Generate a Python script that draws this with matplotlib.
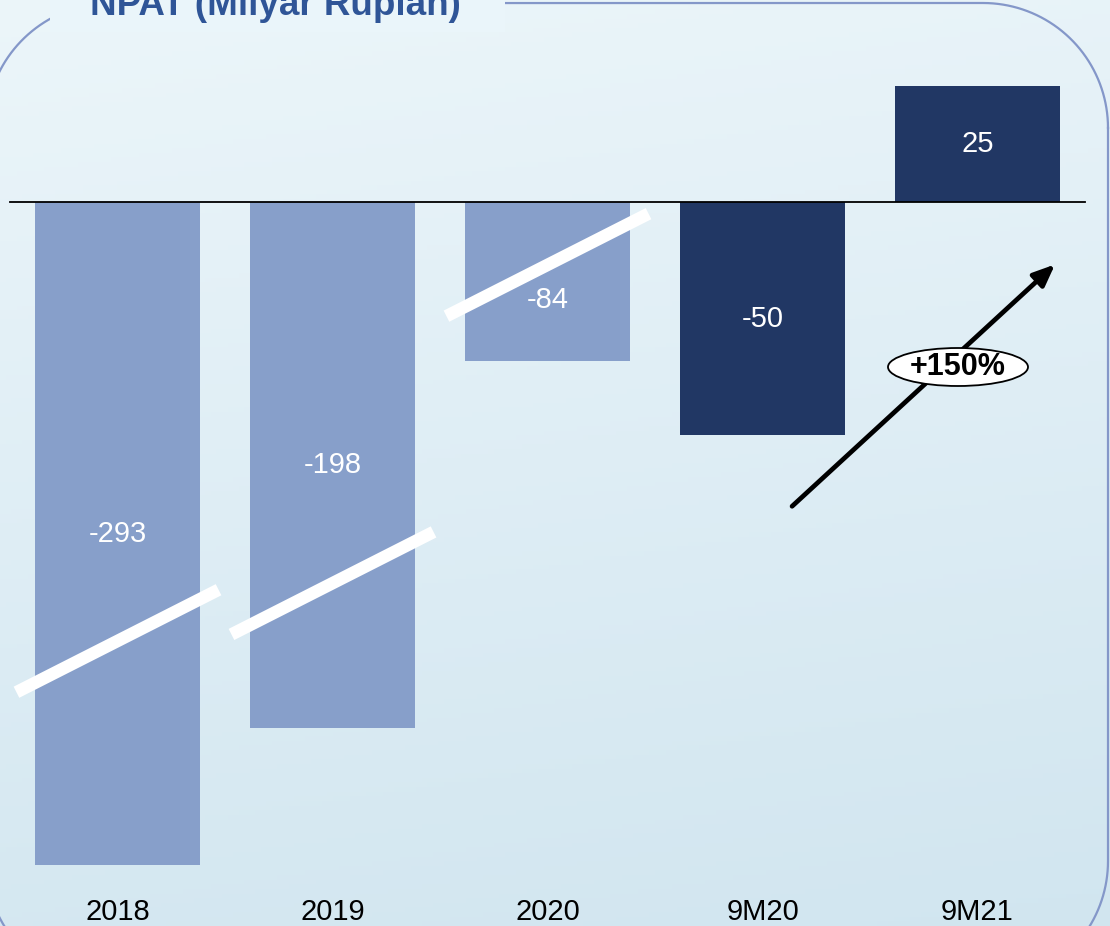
import numpy as np
import matplotlib
matplotlib.use("Agg")
import matplotlib.pyplot as plt
from matplotlib.patches import Ellipse, Rectangle
from matplotlib.lines import Line2D
from matplotlib.transforms import IdentityTransform

plt.rcParams['font.family'] = ['Liberation Sans', 'DejaVu Sans']

# data
categories = ['2018', '2019', '2020', '9M20', '9M21']
values = [-293, -198, -84, -50, 25]
# bar length as drawn on the (broken) axis, in the same units
shown = [-142.3, -112.9, -34.1, -50, 25]
broken = [True, True, True, False, False]
break_at = [-94.2, -81.8, -13.5, None, None]   # where the white slash crosses
colors = ['#879FCA', '#879FCA', '#879FCA', '#213764', '#213764']
growth_label = '+150%'
title = 'NPAT (Milyar Rupiah)'

W, H = 1110, 926
fig = plt.figure(figsize=(W / 100, H / 100), dpi=100)

# background gradient
bg = fig.add_axes([0, 0, 1, 1], zorder=0)
yy = np.linspace(0, 1, 200)[:, None]
xx = np.linspace(0, 1, 200)[None, :]
top = np.array([0.925, 0.963, 0.980])
bot = np.array([0.820, 0.900, 0.940])
t = (yy * 0.85 + xx * 0.15)
img = top[None, None, :] * (1 - t[..., None]) + bot[None, None, :] * t[..., None]
bg.imshow(img, extent=[0, 1, 0, 1], aspect='auto', origin='upper')
bg.set_xlim(0, 1)
bg.set_ylim(0, 1)
bg.axis('off')

# rounded frame, built in pixel coords (origin bottom-left)
def rounded_rect(x0, y0, x1, y1, r, n=40):
    pts = []
    corners = [(x1 - r, y1 - r, 0), (x0 + r, y1 - r, 90),
               (x0 + r, y0 + r, 180), (x1 - r, y0 + r, 270)]
    for cx, cy, a0 in corners:
        a = np.radians(np.linspace(a0, a0 + 90, n))
        pts.append(np.column_stack([cx + r * np.cos(a), cy + r * np.sin(a)]))
    pts = np.vstack(pts + [pts[0][:1]])
    return pts[:, 0], pts[:, 1]

fx, fy = rounded_rect(-14, H - 986, 1108, H - 3, 125)
fig.add_artist(Line2D(fx, fy, transform=IdentityTransform(),
                      color='#8497C9', lw=1.6, zorder=1))
# title box hiding frame behind title
fig.add_artist(Rectangle((50, H - 32), 455, 40, transform=IdentityTransform(),
                         facecolor='#EAF5FA', edgecolor='none', zorder=2))
fig.text(90 / W, 1 - 15 / H, title, fontsize=26.5, fontweight='bold',
         color='#2F5597', ha='left', va='baseline', zorder=3)

# main axes
ax = fig.add_axes([0, 0, 1, 1], zorder=4)
ax.patch.set_alpha(0)
ppu = 4.66
x = np.arange(len(categories))
ax.set_xlim(-117.5 / 215, len(categories) - 1 + (W - 977.5) / 215)
ax.set_ylim(-(H - 202) / ppu, 202 / ppu)
ax.axis('off')

ax.bar(x, shown, width=0.77, color=colors, zorder=2)
ax.plot([-107.5 / 215, (1085 - 117.5) / 215], [0, 0], color='black', lw=1.3, zorder=3)

for i, (v, s) in enumerate(zip(values, shown)):
    ax.text(x[i], s / 2 - (4 if broken[i] and s > -50 else 0), f'{v}',
            ha='center', va='center', color='white', fontsize=21, zorder=5)
    if broken[i]:
        ax.plot([x[i] - 0.47, x[i] + 0.47], [break_at[i] - 11, break_at[i] + 11],
                color='white', lw=9, solid_capstyle='butt', zorder=4)

for i, c in enumerate(categories):
    ax.text(x[i], -(912 - 202) / ppu, c, ha='center', va='center',
            fontsize=21, color='black')

# growth arrow
ax.annotate('', xy=(4.37, -13.0), xytext=(3.128, -65.7),
            arrowprops=dict(arrowstyle='-|>,head_length=1.3,head_width=0.55',
                            color='black', lw=3.4), zorder=5)
ex, ey = (958 - 117.5) / 215, -(367 - 202) / ppu
ax.add_patch(Ellipse((ex, ey), 140 / 215, 38 / ppu, facecolor='white',
                     edgecolor='black', lw=1.3, zorder=6))
ax.text(ex, ey, growth_label, ha='center', va='center', fontsize=22,
        fontweight='bold', color='black', zorder=7)

fig.savefig('out.png', dpi=100)
